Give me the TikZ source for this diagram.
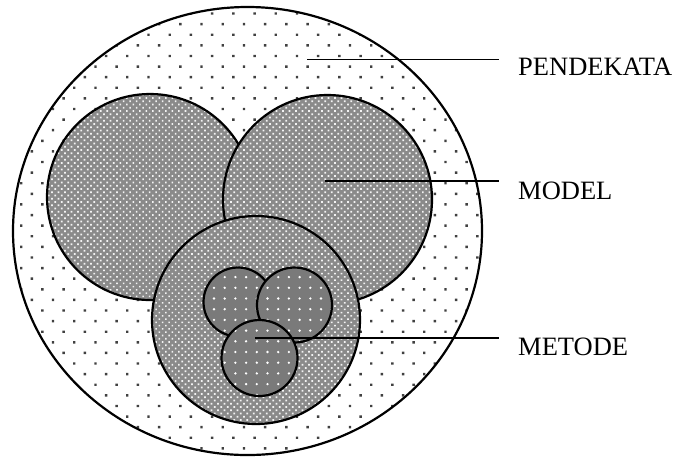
\documentclass[tikz,border=0pt]{standalone}
\usepackage{fontspec}
\setmainfont{Liberation Serif}
\usetikzlibrary{patterns.meta}
\definecolor{Hatch}{HTML}{8A8A8A}
\definecolor{Core}{HTML}{7A7A7A}
\tikzset{
  ring/.style={circle,draw,line width=2.2pt,inner sep=0pt,outer sep=0pt,minimum size=#1},
  approach/.style={draw,line width=2.2pt,pattern={Dots[distance=15pt,radius=1.7pt,angle=45]},pattern color=black!75},
  modelbox/.style={ring=#1,preaction={fill=Hatch},pattern={Dots[distance=4.6pt,radius=1.2pt,angle=45]},pattern color=white!90!Hatch},
  methodbox/.style={ring=#1,preaction={fill=Core},pattern={Dots[distance=10.7pt,radius=1.3pt]},pattern color=white},
  tagline/.style={anchor=west,inner xsep=19pt,inner ysep=0pt,font=\fontsize{26.5}{30}\selectfont},
  leader/.style={line width=1.8pt}
}
\begin{document}
\begin{tikzpicture}[x=1pt,y=-1pt]
\useasboundingbox[fill=white] (0,0) rectangle (679,459);
% outer field
\draw[approach] (247.5,231) ellipse [x radius=234.5,y radius=224];
% three model circles
\node[modelbox=206pt] (mleft) at (150,197) {};
\node[modelbox=209pt] (mright) at (327.5,199.5) {};
\node[modelbox=208pt] (mbottom) at (256,320) {};
% method circles
\node[methodbox=69pt] (cleft) at (238,302) {};
\node[methodbox=75pt] (cright) at (294.5,305) {};
\node[methodbox=76pt] (cbottom) at (259.5,358) {};
% labels
\node[tagline] (tpend) at (499,67) {PENDEKATA};
\node[tagline] (tmodel) at (499,190.5) {MODEL};
\node[tagline] (tmetode) at (499,347) {METODE};
\coordinate (ppend) at (307,59.5);
\coordinate (pmodel) at (325,181);
\coordinate (pmetode) at (255,338);
\draw[leader] (ppend) -- (ppend -| tpend.west);
\draw[leader] (pmodel) -- (pmodel -| tmodel.west);
\draw[leader] (pmetode) -- (pmetode -| tmetode.west);
\end{tikzpicture}
\end{document}
